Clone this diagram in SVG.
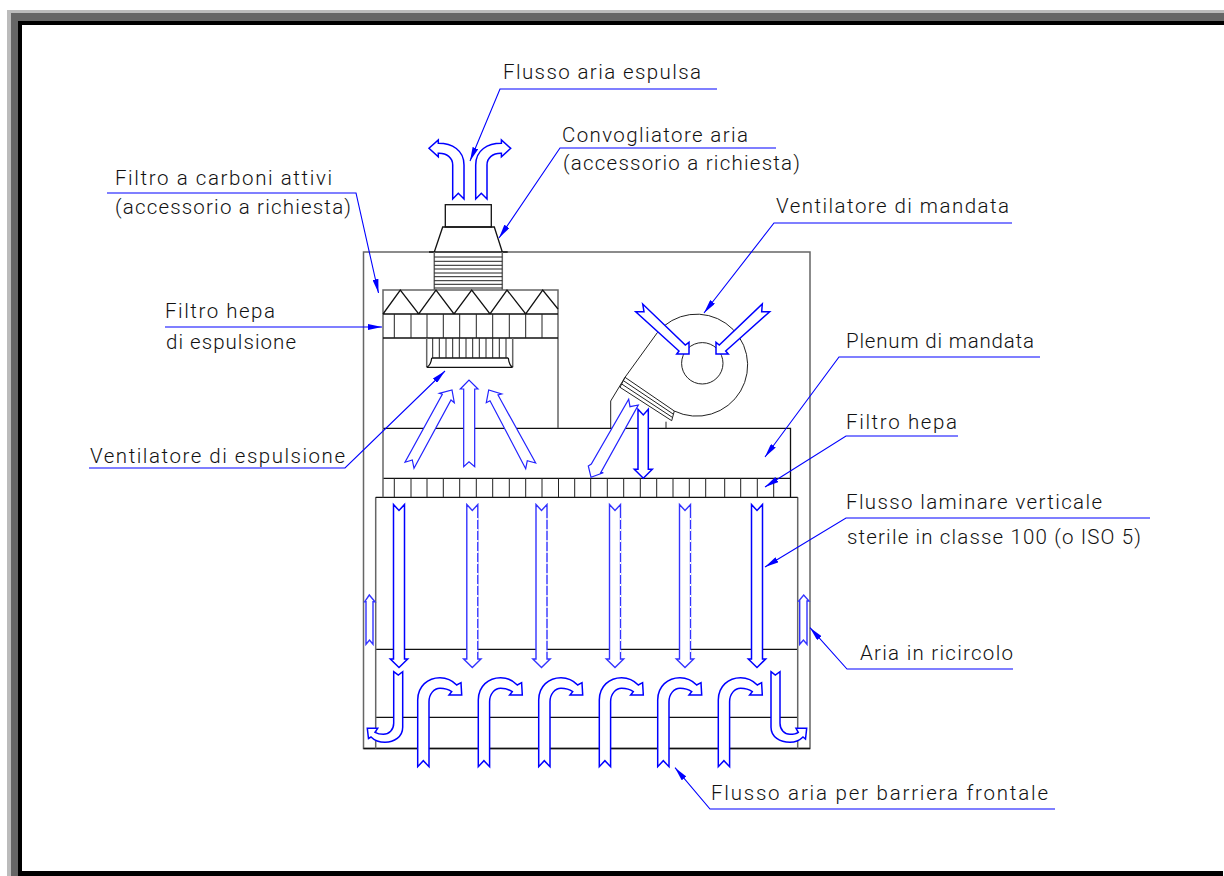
<svg xmlns="http://www.w3.org/2000/svg" xmlns:xlink="http://www.w3.org/1999/xlink" width="1224" height="876" viewBox="0 0 1224 876">
<style>
text{font-family:"Roboto","Liberation Sans",sans-serif;font-weight:300;font-size:20.5px;fill:#111}
.k{fill:none;stroke:#111;stroke-width:1.3}
.g{fill:none;stroke:#666;stroke-width:1.5}
.t{fill:none;stroke:#222;stroke-width:1}
.a{fill:#fff;stroke:#00f;stroke-width:1.5;stroke-linejoin:miter}
.n{fill:#fff;stroke:#22f;stroke-width:1.2}
.s{fill:#fff;stroke:#33f;stroke-width:1.4}
.l{fill:none;stroke:#00f;stroke-width:1.1}
.h{fill:#00f}
.d{stroke:#fff;stroke-width:1.4;stroke-dasharray:2 9;fill:none}
</style>
<defs>
<marker id="m" viewBox="0 0 14 6" refX="14" refY="3" markerWidth="14" markerHeight="6" markerUnits="userSpaceOnUse" orient="auto"><path class="h" d="M0 0L14 3L0 6z"/></marker>
<path id="v" d="M-5.5 504.5L0 510.5L5.5 504.5V659H8.7L0 667.5L-8.7 659H-5.5z"/>
<path id="c" class="a" d="M417.7 766.7V700C417.7 686 428 677.7 440 677.7C447 677.7 452 680 456.7 685L461 682.7L461.7 695H449L451.7 691.7C448 689 444 688.3 440 688.3C434 688.3 429 694 429 701.7V766.7L423.3 760.7z"/>
</defs>
<g id="frame">
<rect x="0" y="0" width="1224" height="876" fill="#fff"/>
<path d="M7 876V10H1224V13H11V876z" fill="#bbb"/>
<path d="M11 876V13H1224V21H18V876z" fill="#666"/>
<path d="M18 876V21H1224V25H22V871H1223V876z" fill="#000"/>
</g>
<g id="cabinet">
<path class="g" d="M434 252H363.5V748.5H810V252H502"/>
<path class="k" d="M375.7 717.3H797.7M375.7 649.3H797.7M363.5 748.5H810"/>
<path class="g" d="M375.7 497.3V748.5M797.7 497.3V748.5"/>
</g>
<g id="plenum">
<path class="k" d="M383 428.3H790.5V497.3M383 478.3H790.5M375.7 497.3H797.7"/>
<path class="g" d="M383 428.3V497.3"/>
<path class="t" d="M394.3 478V497M411 478V497M427 478V497M443.3 478V497M459.7 478V497M476.3 478V497M492.7 478V497M509.3 478V497M525.7 478V497M542 478V497M558.5 478V497M574.7 478V497M590.7 478V497M607.3 478V497M623.7 478V497M640.3 478V497M656.7 478V497M673 478V497M689.3 478V497M705.7 478V497M724.7 478V497M740.7 478V497M757.3 478V497M773.7 478V497"/>
</g>
<g id="filtro-carboni">
<path class="g" d="M383 428V290H558V428"/>
<path class="k" d="M383 314L400.3 290L418.7 314L436 290L454 314L471.7 290L490 314L507 290L525.7 314L542.7 290L558 309M383 314H558"/>
</g>
<g id="filtro-hepa-espulsione">
<path class="k" d="M383 338H558"/>
<path class="t" d="M394.3 314V338M411 314V338M427 314V338M443.3 314V338M459.7 314V338M476.3 314V338M492.7 314V338M509.3 314V338M525.7 314V338M542 314V338"/>
</g>
<g id="ventilatore-espulsione">
<path class="g" d="M426.7 338V367.3M512.7 338V367.3"/>
<path class="k" d="M426.7 367.3H512.7M431.7 358H508.3M431.7 358Q431 365 426.7 367.3M508.3 358Q509 365 512.7 367.3"/>
<path class="t" d="M432.7 338V358M439.3 338V358M446 338V358M452.7 338V358M459.3 338V358M466 338V358M472.7 338V358M479.3 338V358M486 338V358M492.7 338V358M499.3 338V358M506 338V358"/>
</g>
<g id="convogliatore">
<rect class="k" x="445.3" y="204.7" width="46" height="22.3"/>
<path class="k" d="M434.3 252L442.7 227H494.3L502.3 252M429 252H507.7"/>
<path class="g" d="M434.3 252V290M502.3 252V290"/>
<path class="t" d="M434.3 257H502.3M434.3 261.3H502.3M434.3 265.3H502.3M434.3 269H502.3M434.3 273H502.3M434.3 276.7H502.3M434.3 280.7H502.3M434.3 284.3H502.3M434.3 288H502.3"/>
</g>
<g id="ventilatore-mandata">
<path class="t" d="M674.3 411A51 51 0 1 0 657.3 332.7L625 377.3L610.7 401V428M666 421.7V428"/>
<circle class="t" cx="702.3" cy="363.3" r="20.7"/>
<path class="t" d="M625 377.3L674.3 411L671.7 420.7L620 387.3zM623.3 380.6L673.4 414.2M621.7 384L672.6 417.5"/>
</g>
<g id="connectors">
<path class="a" d="M464 199V165C464 150 452 143.3 438.3 143.3V140L429 148.3L438.3 156.7V153.3C447 153 452.7 158 452.7 165V199L458.3 193.3z"/>
<path class="a" d="M475.7 199V165C475.7 150 487.7 143.3 501.4 143.3V140L510.7 148.3L501.4 156.7V153.3C492.7 153 487 158 487 165V199L481.3 193.3z"/>
<path class="n" d="M405 462.3L412.3 460L414 468.3L451 400L454.3 402.7L452 390L439.3 393.3L442.3 394.3z"/>
<path class="n" d="M463.7 466.7V389H460.3L469 380L478 389H474.7V466.7L469 461.7z"/>
<path class="n" d="M535.7 463L527.3 460.7L525.7 468.7L490 400.7L486.3 402.7L488.7 390L501.7 394L498 395z"/>
<path class="a" d="M642.7 304L644 311.7L635.7 311.7L679 351L676.7 354H689V342.3L685.3 345z"/>
<path class="a" d="M762.3 304L761.7 311.7L769.7 311.7L725.7 351L728.3 354H716V342.3L719.3 345z"/>
<path class="n" d="M628.7 399.3L630 406.7L638.3 405L600.7 472.7L603.3 472.7L591 477.3L588.3 466L591.3 464z"/>
<path class="a" d="M638 409.3L643.3 415L648.3 409.3V469.3H652.3L643.3 478.3L634.3 469.3H638z"/>
<use class="a" xlink:href="#v" href="#v" x="399"/>
<use class="s" xlink:href="#v" href="#v" x="472.3"/>
<use class="s" xlink:href="#v" href="#v" x="541.5"/>
<use class="s" xlink:href="#v" href="#v" x="615"/>
<use class="s" xlink:href="#v" href="#v" x="685"/>
<use class="a" xlink:href="#v" href="#v" x="757"/>
<path class="d" d="M477.8 518V655M547 518V655M620.5 518V655M690.5 518V655"/>
<path class="s" d="M366 644.3V601.7H364.7L369.3 595L375 601.7H373V644.3L369.5 640z"/>
<path class="s" d="M799.7 644.3V601H798.7L803.7 595L809 601H807V644.3L803.4 640z"/>
<use xlink:href="#c" href="#c"/>
<use xlink:href="#c" href="#c" x="60.6"/>
<use xlink:href="#c" href="#c" x="121"/>
<use xlink:href="#c" href="#c" x="181.6"/>
<use xlink:href="#c" href="#c" x="240"/>
<use xlink:href="#c" href="#c" x="300.6"/>
<path class="a" d="M393.7 671.7L398.3 675L402.7 671.7V727.3C402.7 737 394 742.3 385 742.3C379 742.3 375 741 371 737L368.5 738.5L367.3 728.3H377.7L375 732.3C378 734 380 734.3 383.3 734.3C389 734.3 393.7 730 393.7 723.3z"/>
<path class="a" d="M771 671.7L775.3 675L780 671.7V723.3C780 730 784.5 734.3 790 734.3C793.5 734.3 796 734 798.3 732.3L796 728.3H806.7L805.5 739L803 737C799 741 795 742.3 790 742.3C780 742.3 771 737 771 727.3z"/>
<path class="l" d="M717 89H500L470 161" marker-end="url(#m)"/>
<path class="l" d="M776 148H560L499 238" marker-end="url(#m)"/>
<path class="l" d="M107 193H356L378.5 293" marker-end="url(#m)"/>
<path class="l" d="M165 327H382" marker-end="url(#m)"/>
<path class="l" d="M89 468H345L445 371" marker-end="url(#m)"/>
<path class="l" d="M1012 223H774L704 313" marker-end="url(#m)"/>
<path class="l" d="M1040 357H839L765 457" marker-end="url(#m)"/>
<path class="l" d="M958 436H846L765 487" marker-end="url(#m)"/>
<path class="l" d="M1150 518H846L765 567" marker-end="url(#m)"/>
<path class="l" d="M1013 669H847L810 627.7" marker-end="url(#m)"/>
<path class="l" d="M1055 809H710L675 767.7" marker-end="url(#m)"/>
</g>
<g id="labels">
<text x="503" y="79" textLength="198">Flusso aria espulsa</text>
<text x="562" y="142" textLength="186">Convogliatore aria</text>
<text x="563" y="170" textLength="237">(accessorio a richiesta)</text>
<text x="115" y="185" textLength="217">Filtro a carboni attivi</text>
<text x="115" y="214" textLength="236">(accessorio a richiesta)</text>
<text x="165" y="318" textLength="110">Filtro hepa</text>
<text x="166" y="349" textLength="130">di espulsione</text>
<text x="90" y="463" textLength="255">Ventilatore di espulsione</text>
<text x="776" y="213" textLength="233">Ventilatore di mandata</text>
<text x="846" y="348" textLength="188">Plenum di mandata</text>
<text x="846" y="429" textLength="111">Filtro hepa</text>
<text x="846" y="509" textLength="256">Flusso laminare verticale</text>
<text x="847" y="544" textLength="294">sterile in classe 100 (o ISO 5)</text>
<text x="860" y="660" textLength="153">Aria in ricircolo</text>
<text x="711" y="800" textLength="337">Flusso aria per barriera frontale</text>
</g>
</svg>
